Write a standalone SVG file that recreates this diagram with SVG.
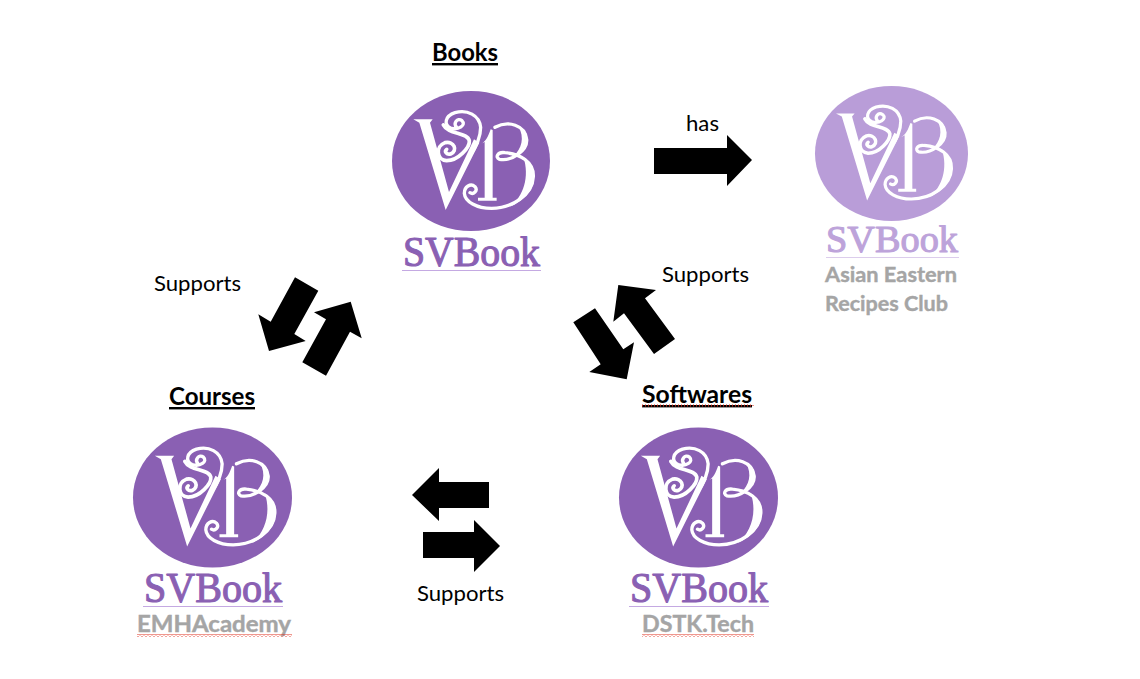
<svg xmlns="http://www.w3.org/2000/svg" width="1140" height="679" viewBox="0 0 1140 679">
<style>
text{font-family:Lato,"Open Sans","Liberation Sans",sans-serif}
.lab{font-size:21px;fill:#000}
.head{font-size:24px;font-weight:700;fill:#000;text-decoration:underline}
.grey{font-size:22px;font-weight:700;fill:#a5a5a5;stroke:#a5a5a5;stroke-width:.4px}
.word{font-family:"Liberation Serif",serif;font-size:42px;fill:#8a60b3;stroke:#8a60b3;stroke-width:1.1px;stroke-linejoin:round}
.arr{fill:#000}
.ln{fill:none;stroke:#fff;stroke-linecap:round;stroke-linejoin:round}
</style>
<defs>
<pattern id="sq" width="4" height="3" patternUnits="userSpaceOnUse"><path d="M0,2.5L2,.5L4,2.5" fill="none" stroke="#e0301e" stroke-width="1"/></pattern>
<g id="mark">
<g transform="translate(-91,-131) scale(.3333)">
<path fill="#fff" d="M100,268H158L150,278 207,486 282,328 298,338 197,540 118,278Z"/>
<path class="ln" stroke-width="10" d="M230,292C218,280 232,262 246,272C260,285 235,302 212,294C190,284 195,258 225,248C262,238 298,255 302,292C302,325 288,352 268,380"/>
<path class="ln" stroke-width="11" d="M190,285C205,315 262,305 268,332C270,352 235,392 200,392C170,390 165,350 195,338C222,332 235,362 212,372C200,375 192,365 200,358"/>
<path fill="#fff" d="M303,342C318,335 325,318 332,298L338,300V503H350V512H294V503H314V336Z"/>
<path class="ln" stroke-width="10" d="M345,292C385,270 435,285 440,328C443,362 395,395 358,388C345,382 352,365 375,368C420,372 462,395 460,440C458,495 395,535 335,535C290,535 255,515 253,490C253,470 272,458 285,470C295,482 280,495 270,488"/>
<path fill="#fff" d="M415,288C452,305 455,350 400,380C425,355 435,325 415,288Z"/>
<path fill="#fff" d="M430,380C478,420 478,490 390,530C430,500 450,440 430,380Z"/>
</g>
</g>
</defs>
<g id="connectors">
<polygon class="arr" points="654,148 727,148 727,135 752,160 727,186 727,174 654,174"/>
<polygon class="arr" points="295,277.3 318.3,290.7 294.3,334 305.7,341 269,351 258.3,314.3 270.7,321.7"/>
<polygon class="arr" points="350.7,301.7 361.7,338.3 350,331.7 326,375.7 302.3,362.3 326,319.3 314,312.3"/>
<polygon class="arr" points="618.3,285 656,290 645,298.3 675,339 654,354 624,313.3 613.3,321.7"/>
<polygon class="arr" points="595,308.3 623.3,349.3 634,342.3 626.7,379.3 589.3,372 600.7,364.3 573.3,322.3"/>
<polygon class="arr" points="412,495 439,468 439,482 489,482 489,508 439,508 439,521"/>
<polygon class="arr" points="423,532 474,532 474,520 500,546 474,572 474,558 423,558"/>
</g>
<g id="labels">
<text class="lab" x="686" y="131" textLength="33" lengthAdjust="spacingAndGlyphs">has</text>
<text class="lab" x="154" y="291" textLength="87" lengthAdjust="spacingAndGlyphs">Supports</text>
<text class="lab" x="662" y="282" textLength="87" lengthAdjust="spacingAndGlyphs">Supports</text>
<text class="lab" x="417" y="601" textLength="87" lengthAdjust="spacingAndGlyphs">Supports</text>
</g>
<g id="books">
<text class="head" x="432" y="61" textLength="66" lengthAdjust="spacingAndGlyphs">Books</text>
<ellipse cx="471" cy="161" rx="79" ry="70" fill="#8a60b3"/>
<use href="#mark" x="471" y="161"/>
<text class="word" x="403" y="266" textLength="137" lengthAdjust="spacingAndGlyphs">SVBook</text>
<rect x="402" y="270" width="139" height="1" fill="#c4a9e2"/>
</g>
<g id="club">
<ellipse cx="891.5" cy="153.5" rx="76.5" ry="67.5" fill="#b99dd8"/>
<use href="#mark" transform="translate(891.5,153.5) scale(.962)"/>
<text class="word" style="fill:#bda3da;stroke:#bda3da;font-size:38px" x="826" y="252" textLength="132" lengthAdjust="spacingAndGlyphs">SVBook</text>
<rect x="826" y="257" width="133" height="1" fill="#dccdec"/>
<text class="grey" style="font-size:21px" x="825" y="282" textLength="132" lengthAdjust="spacingAndGlyphs">Asian Eastern</text>
<text class="grey" style="font-size:21px" x="825" y="311" textLength="123" lengthAdjust="spacingAndGlyphs">Recipes Club</text>
</g>
<g id="courses">
<text class="head" x="169" y="405" textLength="86" lengthAdjust="spacingAndGlyphs">Courses</text>
<ellipse cx="212.5" cy="497.5" rx="79.5" ry="70" fill="#8a60b3"/>
<use href="#mark" x="212.5" y="497.5"/>
<text class="word" x="144" y="602" textLength="138" lengthAdjust="spacingAndGlyphs">SVBook</text>
<rect x="143" y="606" width="140" height="1" fill="#c4a9e2"/>
<text class="grey" x="137" y="632" textLength="154" lengthAdjust="spacingAndGlyphs">EMHAcademy</text>
<rect x="137" y="634" width="155" height="3" fill="url(#sq)"/>
</g>
<g id="softwares">
<text class="head" x="642" y="403" textLength="110" lengthAdjust="spacingAndGlyphs">Softwares</text>
<rect x="642" y="405" width="111" height="1" fill="none" stroke="#e0301e" stroke-dasharray="1 2"/>
<ellipse cx="698.5" cy="497.5" rx="79.5" ry="70" fill="#8a60b3"/>
<use href="#mark" x="698.5" y="497.5"/>
<text class="word" x="630" y="602" textLength="138" lengthAdjust="spacingAndGlyphs">SVBook</text>
<rect x="629" y="606" width="140" height="1" fill="#c4a9e2"/>
<text class="grey" x="642" y="632" textLength="112" lengthAdjust="spacingAndGlyphs">DSTK.Tech</text>
<rect x="642" y="634" width="112" height="3" fill="url(#sq)"/>
</g>
</svg>
